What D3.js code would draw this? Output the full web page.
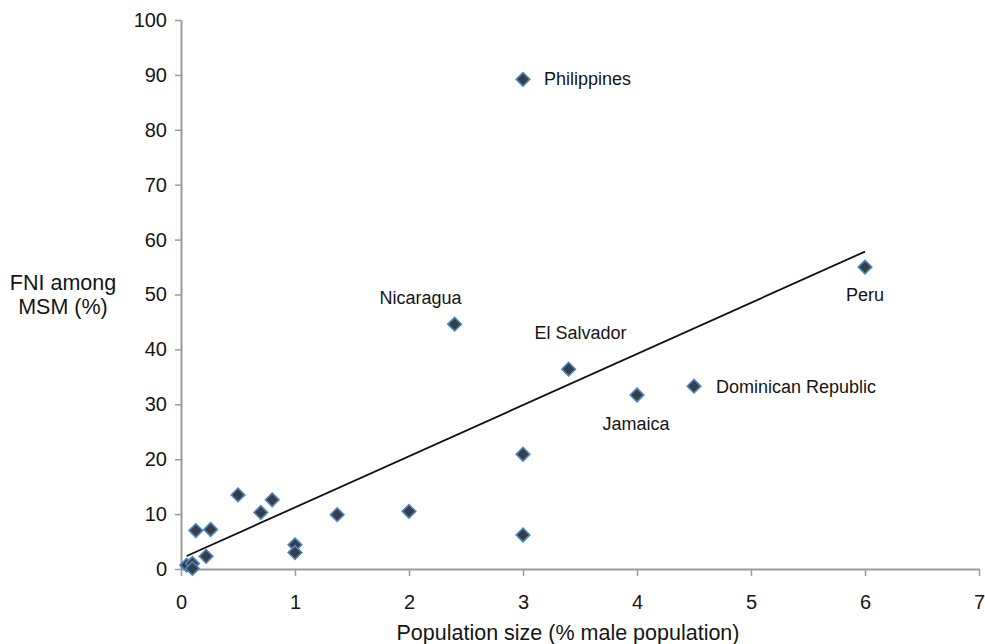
<!DOCTYPE html>
<html>
<head>
<meta charset="utf-8">
<script src="https://cdn.jsdelivr.net/npm/d3@7"></script>
<style>
  html, body { margin: 0; padding: 0; background: #fff; }
  svg text { font-family: "Liberation Sans", Arial, sans-serif; fill: #151515; }
</style>
</head>
<body>
<svg id="chart" width="985" height="644"></svg>
<script>
// Population size of MSM (% of male population) per country
const popSize = [3.0, 2.4, 3.4, 4.0, 4.5, 6.0, 3.0, 3.0, 2.0, 1.37, 0.5, 0.8, 0.7, 0.13, 0.26, 0.22, 1.0, 1.0, 0.05, 0.1, 0.1];
// Fraction of new infections among MSM (%)
const fniMSM  = [89.2, 44.6, 36.4, 31.7, 33.3, 55.0, 20.9, 6.2, 10.5, 9.9, 13.5, 12.6, 10.3, 7.0, 7.2, 2.3, 4.4, 3.0, 0.7, 1.0, 0.1];
// Named countries (index into the arrays above)
const countryNames = ["Philippines", "Nicaragua", "El Salvador", "Jamaica", "Dominican Republic", "Peru"];
const countryIndex = [0, 1, 2, 3, 4, 5];
// Linear trend line: FNI = slope * size + intercept
const trendSlope = 9.32;
const trendIntercept = 1.9;
// Axis ticks
const xTicks = [0, 1, 2, 3, 4, 5, 6, 7];
const yTicks = [0, 10, 20, 30, 40, 50, 60, 70, 80, 90, 100];

// Label placement relative to each point
const labelPlacement = {
  "Philippines":        { anchor: "start",  dx: 21,  dy: 6 },
  "Nicaragua":          { anchor: "middle", dx: -34, dy: -20 },
  "El Salvador":        { anchor: "middle", dx: 12,  dy: -30 },
  "Jamaica":            { anchor: "middle", dx: -1,  dy: 35 },
  "Dominican Republic": { anchor: "start",  dx: 22,  dy: 7 },
  "Peru":               { anchor: "middle", dx: 0,   dy: 34 }
};

const svg = d3.select("#chart");
const x = d3.scaleLinear().domain([0, 7]).range([181, 979]);
const y = d3.scaleLinear().domain([0, 100]).range([569, 20]);

const axisColor = "#9a9a9a";
const tickFont = 20;
const titleFont = 21.5;
const labelFont = 18;

// X axis
const xAxis = svg.append("g")
  .attr("transform", `translate(0,${y(0)})`)
  .call(d3.axisBottom(x).tickValues(xTicks).tickFormat(d3.format("d"))
    .tickSize(7).tickPadding(19).tickSizeOuter(0));
xAxis.select(".domain").attr("stroke", axisColor).attr("stroke-width", 2);
xAxis.selectAll(".tick line").attr("stroke", axisColor).attr("stroke-width", 1.5);
xAxis.selectAll(".tick text").style("font-size", tickFont + "px").attr("fill", "#151515");

// Y axis
const yAxis = svg.append("g")
  .attr("transform", `translate(${x(0)},0)`)
  .call(d3.axisLeft(y).tickValues(yTicks).tickFormat(d3.format("d"))
    .tickSize(6).tickPadding(8).tickSizeOuter(0));
yAxis.select(".domain").attr("stroke", axisColor).attr("stroke-width", 2);
yAxis.selectAll(".tick line").attr("stroke", axisColor).attr("stroke-width", 1.5);
yAxis.selectAll(".tick text").style("font-size", tickFont + "px").attr("fill", "#151515");

// Axis titles
svg.append("text")
  .attr("x", 568).attr("y", 640)
  .attr("text-anchor", "middle")
  .style("font-size", titleFont + "px")
  .text("Population size (% male population)");

const yTitle = svg.append("text")
  .attr("text-anchor", "middle")
  .style("font-size", titleFont + "px");
yTitle.append("tspan").attr("x", 63).attr("y", 290).text("FNI among");
yTitle.append("tspan").attr("x", 63).attr("y", 314).text("MSM (%)");

// Trend line across the data range
const xMin = d3.min(popSize), xMax = d3.max(popSize);
svg.append("line")
  .attr("x1", x(xMin)).attr("y1", y(trendSlope * xMin + trendIntercept))
  .attr("x2", x(xMax)).attr("y2", y(trendSlope * xMax + trendIntercept))
  .attr("stroke", "#111").attr("stroke-width", 1.8);

// Diamond markers
const points = popSize.map((v, i) => ({ px: v, fy: fniMSM[i] }));
const diamond = d3.symbol().type(d3.symbolSquare).size(92);
svg.append("g").selectAll("path")
  .data(points)
  .join("path")
  .attr("d", diamond)
  .attr("transform", d => `translate(${x(d.px)},${y(d.fy)}) rotate(45)`)
  .attr("fill", "#3a3d42")
  .attr("stroke", "#4a84c8")
  .attr("stroke-width", 1.6);

// Country labels
svg.append("g").selectAll("text")
  .data(countryNames.map((n, k) => ({ name: n, i: countryIndex[k] })))
  .join("text")
  .attr("x", d => x(popSize[d.i]) + labelPlacement[d.name].dx)
  .attr("y", d => y(fniMSM[d.i]) + labelPlacement[d.name].dy)
  .attr("text-anchor", d => labelPlacement[d.name].anchor)
  .style("font-size", labelFont + "px")
  .text(d => d.name);
</script>
</body>
</html>
